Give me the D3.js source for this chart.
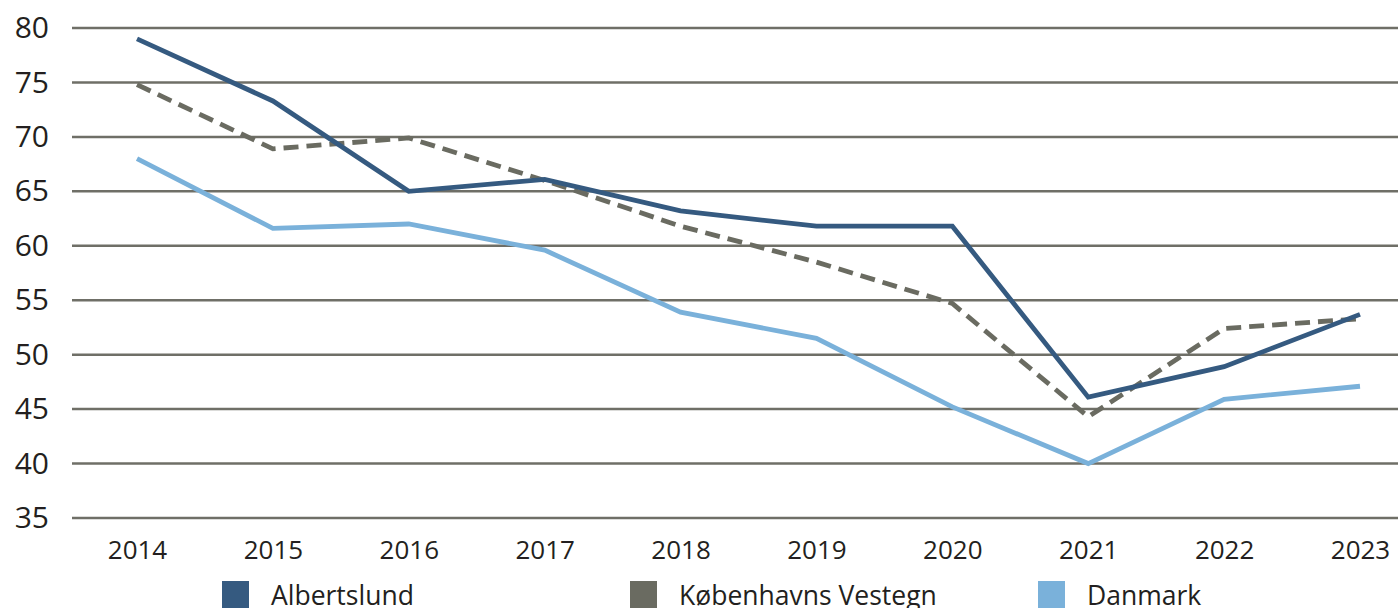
<!DOCTYPE html>
<html>
<head>
<meta charset="utf-8">
<script src="https://cdn.jsdelivr.net/npm/d3@7"></script>
<style>
  html, body { margin: 0; padding: 0; background: #fff; overflow: hidden; }
  svg { display: block; font-family: "Open Sans", "Noto Sans", sans-serif; }
</style>
</head>
<body>
<div class="bg"></div>
<script>
const years = ["2014", "2015", "2016", "2017", "2018", "2019", "2020", "2021", "2022", "2023"];
const albertslund = [79.0, 73.3, 65.0, 66.1, 63.2, 61.8, 61.8, 46.1, 48.9, 53.7];
const vestegn = [74.8, 68.9, 69.9, 66.0, 61.8, 58.5, 54.7, 44.3, 52.4, 53.3];
const danmark = [68.0, 61.6, 62.0, 59.6, 53.9, 51.5, 45.2, 40.0, 45.9, 47.1];
const yTicks = [35, 40, 45, 50, 55, 60, 65, 70, 75, 80];
const seriesNames = ["Albertslund", "Københavns Vestegn", "Danmark"];

const W = 1398, H = 608;

const svg = d3.select(".bg").append("svg")
  .attr("width", W)
  .attr("height", H);

const xScale = d3.scalePoint().domain(years).range([137, 1360]);
const yScale = d3.scaleLinear().domain([35, 80]).range([518, 28]);

// gridlines
svg.append("g")
  .selectAll("line")
  .data(yTicks)
  .enter().append("line")
  .attr("x1", 72)
  .attr("x2", W)
  .attr("y1", d => yScale(d))
  .attr("y2", d => yScale(d))
  .attr("stroke", "#6f6f67")
  .attr("stroke-width", 2.5);

// y axis labels
const yAxis = d3.axisLeft(yScale).tickValues(yTicks).tickSize(0).tickPadding(0);
const yg = svg.append("g")
  .attr("transform", "translate(49,0)")
  .call(yAxis);
yg.select(".domain").remove();
yg.selectAll("text")
  .attr("font-size", 30)
  .attr("font-family", "'Open Sans', 'Noto Sans', sans-serif")
  .attr("fill", "#231f20");

// x axis labels
const xAxis = d3.axisBottom(xScale).tickSize(0).tickPadding(0);
const xg = svg.append("g")
  .attr("transform", "translate(0,541)")
  .call(xAxis);
xg.select(".domain").remove();
xg.selectAll("text")
  .attr("font-size", 26)
  .attr("font-family", "'Open Sans', 'Noto Sans', sans-serif")
  .attr("fill", "#231f20");

const line = d3.line()
  .x((d, i) => xScale(years[i]))
  .y(d => yScale(d));

const series = [
  { name: seriesNames[0], values: albertslund, color: "#355a80", dash: null },
  { name: seriesNames[1], values: vestegn, color: "#6a6b61", dash: "15,8" },
  { name: seriesNames[2], values: danmark, color: "#7ab1da", dash: null }
];

// draw Danmark first, then dashed, then Albertslund on top
[series[2], series[1], series[0]].forEach(s => {
  svg.append("path")
    .datum(s.values)
    .attr("d", line)
    .attr("fill", "none")
    .attr("stroke", s.color)
    .attr("stroke-width", 4.8)
    .attr("stroke-linejoin", "miter")
    .attr("stroke-dasharray", s.dash);
});

// legend (bottom row is clipped by the picture edge, as in the original)
const legendX = d3.scaleLinear().domain([0, 1]).range([222, 630]);
const legend = svg.append("g")
  .selectAll("g")
  .data(series)
  .enter().append("g")
  .attr("transform", (d, i) => "translate(" + legendX(i) + ",581)");

legend.append("rect")
  .attr("width", 27)
  .attr("height", 27)
  .attr("fill", d => d.color);

legend.append("text")
  .attr("x", 49)
  .attr("y", 24)
  .attr("font-size", 26.5)
  .attr("fill", "#231f20")
  .text(d => d.name);
</script>
</body>
</html>
